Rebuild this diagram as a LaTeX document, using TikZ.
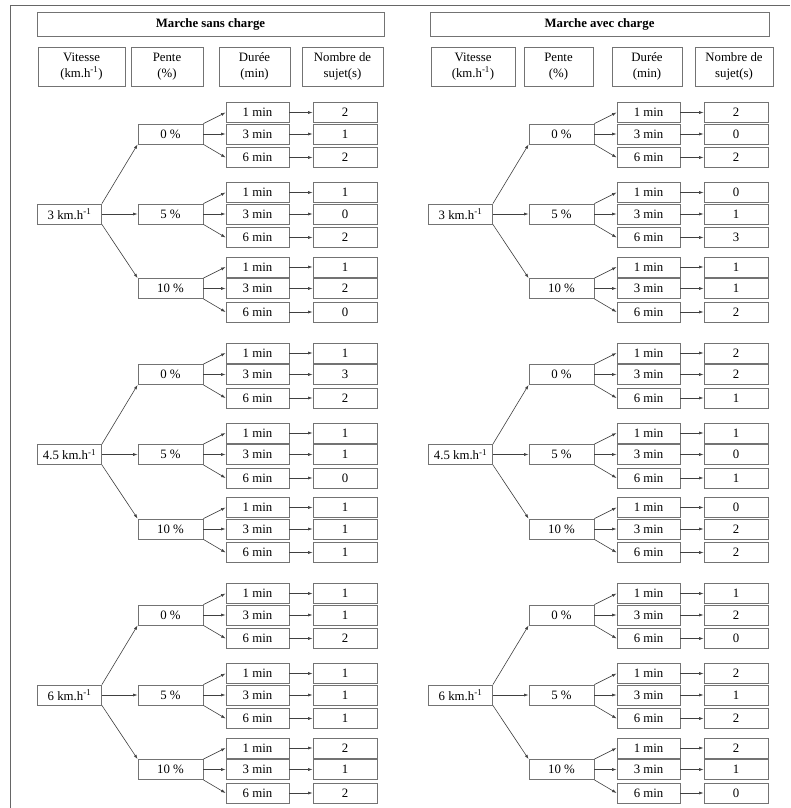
\documentclass[tikz,border=0pt]{standalone}
\usepackage{fontspec}
\setmainfont{Liberation Serif}
\usetikzlibrary{arrows.meta}
\tikzset{
  bx/.style={draw=black!55, line width=0.8pt, inner sep=0pt, minimum height=20pt, font=\fontsize{12.8}{15.5}\selectfont},
  sbox/.style={bx, minimum width=64pt},
  pbox/.style={bx, minimum width=65pt},
  dbox/.style={bx, minimum width=63pt},
  nbox/.style={bx, minimum width=64pt},
  hbox/.style={bx, align=center, minimum height=39pt},
  tbox/.style={bx, minimum height=24pt, font=\fontsize{12.8}{15.5}\selectfont\bfseries},
  arr/.style={draw=black!75, line width=0.6pt, -{Latex[length=4.5pt,width=3pt]}},
  frame/.style={draw=black!60, line width=0.9pt}
}
\newcommand\mypanel[3]{%
  % #1 side name, #2 x offset, #3 data list g/s/pente/n1/n2/n3
  \foreach \g/\s/\p/\na/\nb/\nc in {#3} {
    \pgfmathsetmacro\T{103+240.5*\g+(\s==0 ? 0 : (\s==1 ? 80 : 154.5))}
    \node[pbox] (#1-\g-\s) at (#2+170.5, \T+31) {\p~\%};
    \node[dbox] (#1-\g-\s-1) at (#2+257.5, \T+9.5) {1 min};
    \node[dbox] (#1-\g-\s-2) at (#2+257.5, \T+31) {3 min};
    \node[dbox] (#1-\g-\s-3) at (#2+257.5, \T+54.5) {6 min};
    \node[nbox] (#1-\g-\s-n1) at (#2+345, \T+9.5) {\na};
    \node[nbox] (#1-\g-\s-n2) at (#2+345, \T+31) {\nb};
    \node[nbox] (#1-\g-\s-n3) at (#2+345, \T+54.5) {\nc};
    \draw[arr] (#1-\g-\s.north east) -- (#1-\g-\s-1.west);
    \draw[arr] (#1-\g-\s.east) -- (#1-\g-\s-2.west);
    \draw[arr] (#1-\g-\s.south east) -- (#1-\g-\s-3.west);
    \draw[arr] (#1-\g-\s-1.east) -- (#1-\g-\s-n1.west);
    \draw[arr] (#1-\g-\s-2.east) -- (#1-\g-\s-n2.west);
    \draw[arr] (#1-\g-\s-3.east) -- (#1-\g-\s-n3.west);
  }
  \foreach \g/\v in {0/3, 1/4.5, 2/6} {
    \node[sbox] (#1-v\g) at (#2+69.5, 214+240.5*\g) {\v{} km.h\textsuperscript{-1}};
    \draw[arr] (#1-v\g.north east) -- (#1-\g-0.south west);
    \draw[arr] (#1-v\g.east) -- (#1-\g-1.west);
    \draw[arr] (#1-v\g.south east) -- (#1-\g-2.north west);
  }
}
\begin{document}
\begin{tikzpicture}[x=1pt, y=-1pt]
\useasboundingbox (0,0) rectangle (790,808);
\draw[frame] (10,808) -- (10,5) -- (790,5);

% titles
\node[tbox, minimum width=347pt] (tL) at (210.5, 24) {Marche sans charge};
\node[tbox, minimum width=339pt] (tR) at (599.5, 24) {Marche avec charge};

% headers left
\node[hbox, minimum width=87pt] (hL1) at (81.5, 66.5) {Vitesse\\(km.h\textsuperscript{-1})};
\node[hbox, minimum width=72pt] (hL2) at (167, 66.5) {Pente\\(\%)};
\node[hbox, minimum width=71pt] (hL3) at (254.5, 66.5) {Durée\\(min)};
\node[hbox, minimum width=81pt] (hL4) at (342.5, 66.5) {Nombre de\\sujet(s)};
% headers right
\node[hbox, minimum width=84pt] (hR1) at (473, 66.5) {Vitesse\\(km.h\textsuperscript{-1})};
\node[hbox, minimum width=69pt] (hR2) at (558.5, 66.5) {Pente\\(\%)};
\node[hbox, minimum width=70pt] (hR3) at (647, 66.5) {Durée\\(min)};
\node[hbox, minimum width=78pt] (hR4) at (734, 66.5) {Nombre de\\sujet(s)};

\mypanel{L}{0}{0/0/0/2/1/2, 0/1/5/1/0/2, 0/2/10/1/2/0,
               1/0/0/1/3/2, 1/1/5/1/1/0, 1/2/10/1/1/1,
               2/0/0/1/1/2, 2/1/5/1/1/1, 2/2/10/2/1/2}
\mypanel{R}{391}{0/0/0/2/0/2, 0/1/5/0/1/3, 0/2/10/1/1/2,
                 1/0/0/2/2/1, 1/1/5/1/0/1, 1/2/10/0/2/2,
                 2/0/0/1/2/0, 2/1/5/2/1/2, 2/2/10/2/1/0}
\end{tikzpicture}
\end{document}
